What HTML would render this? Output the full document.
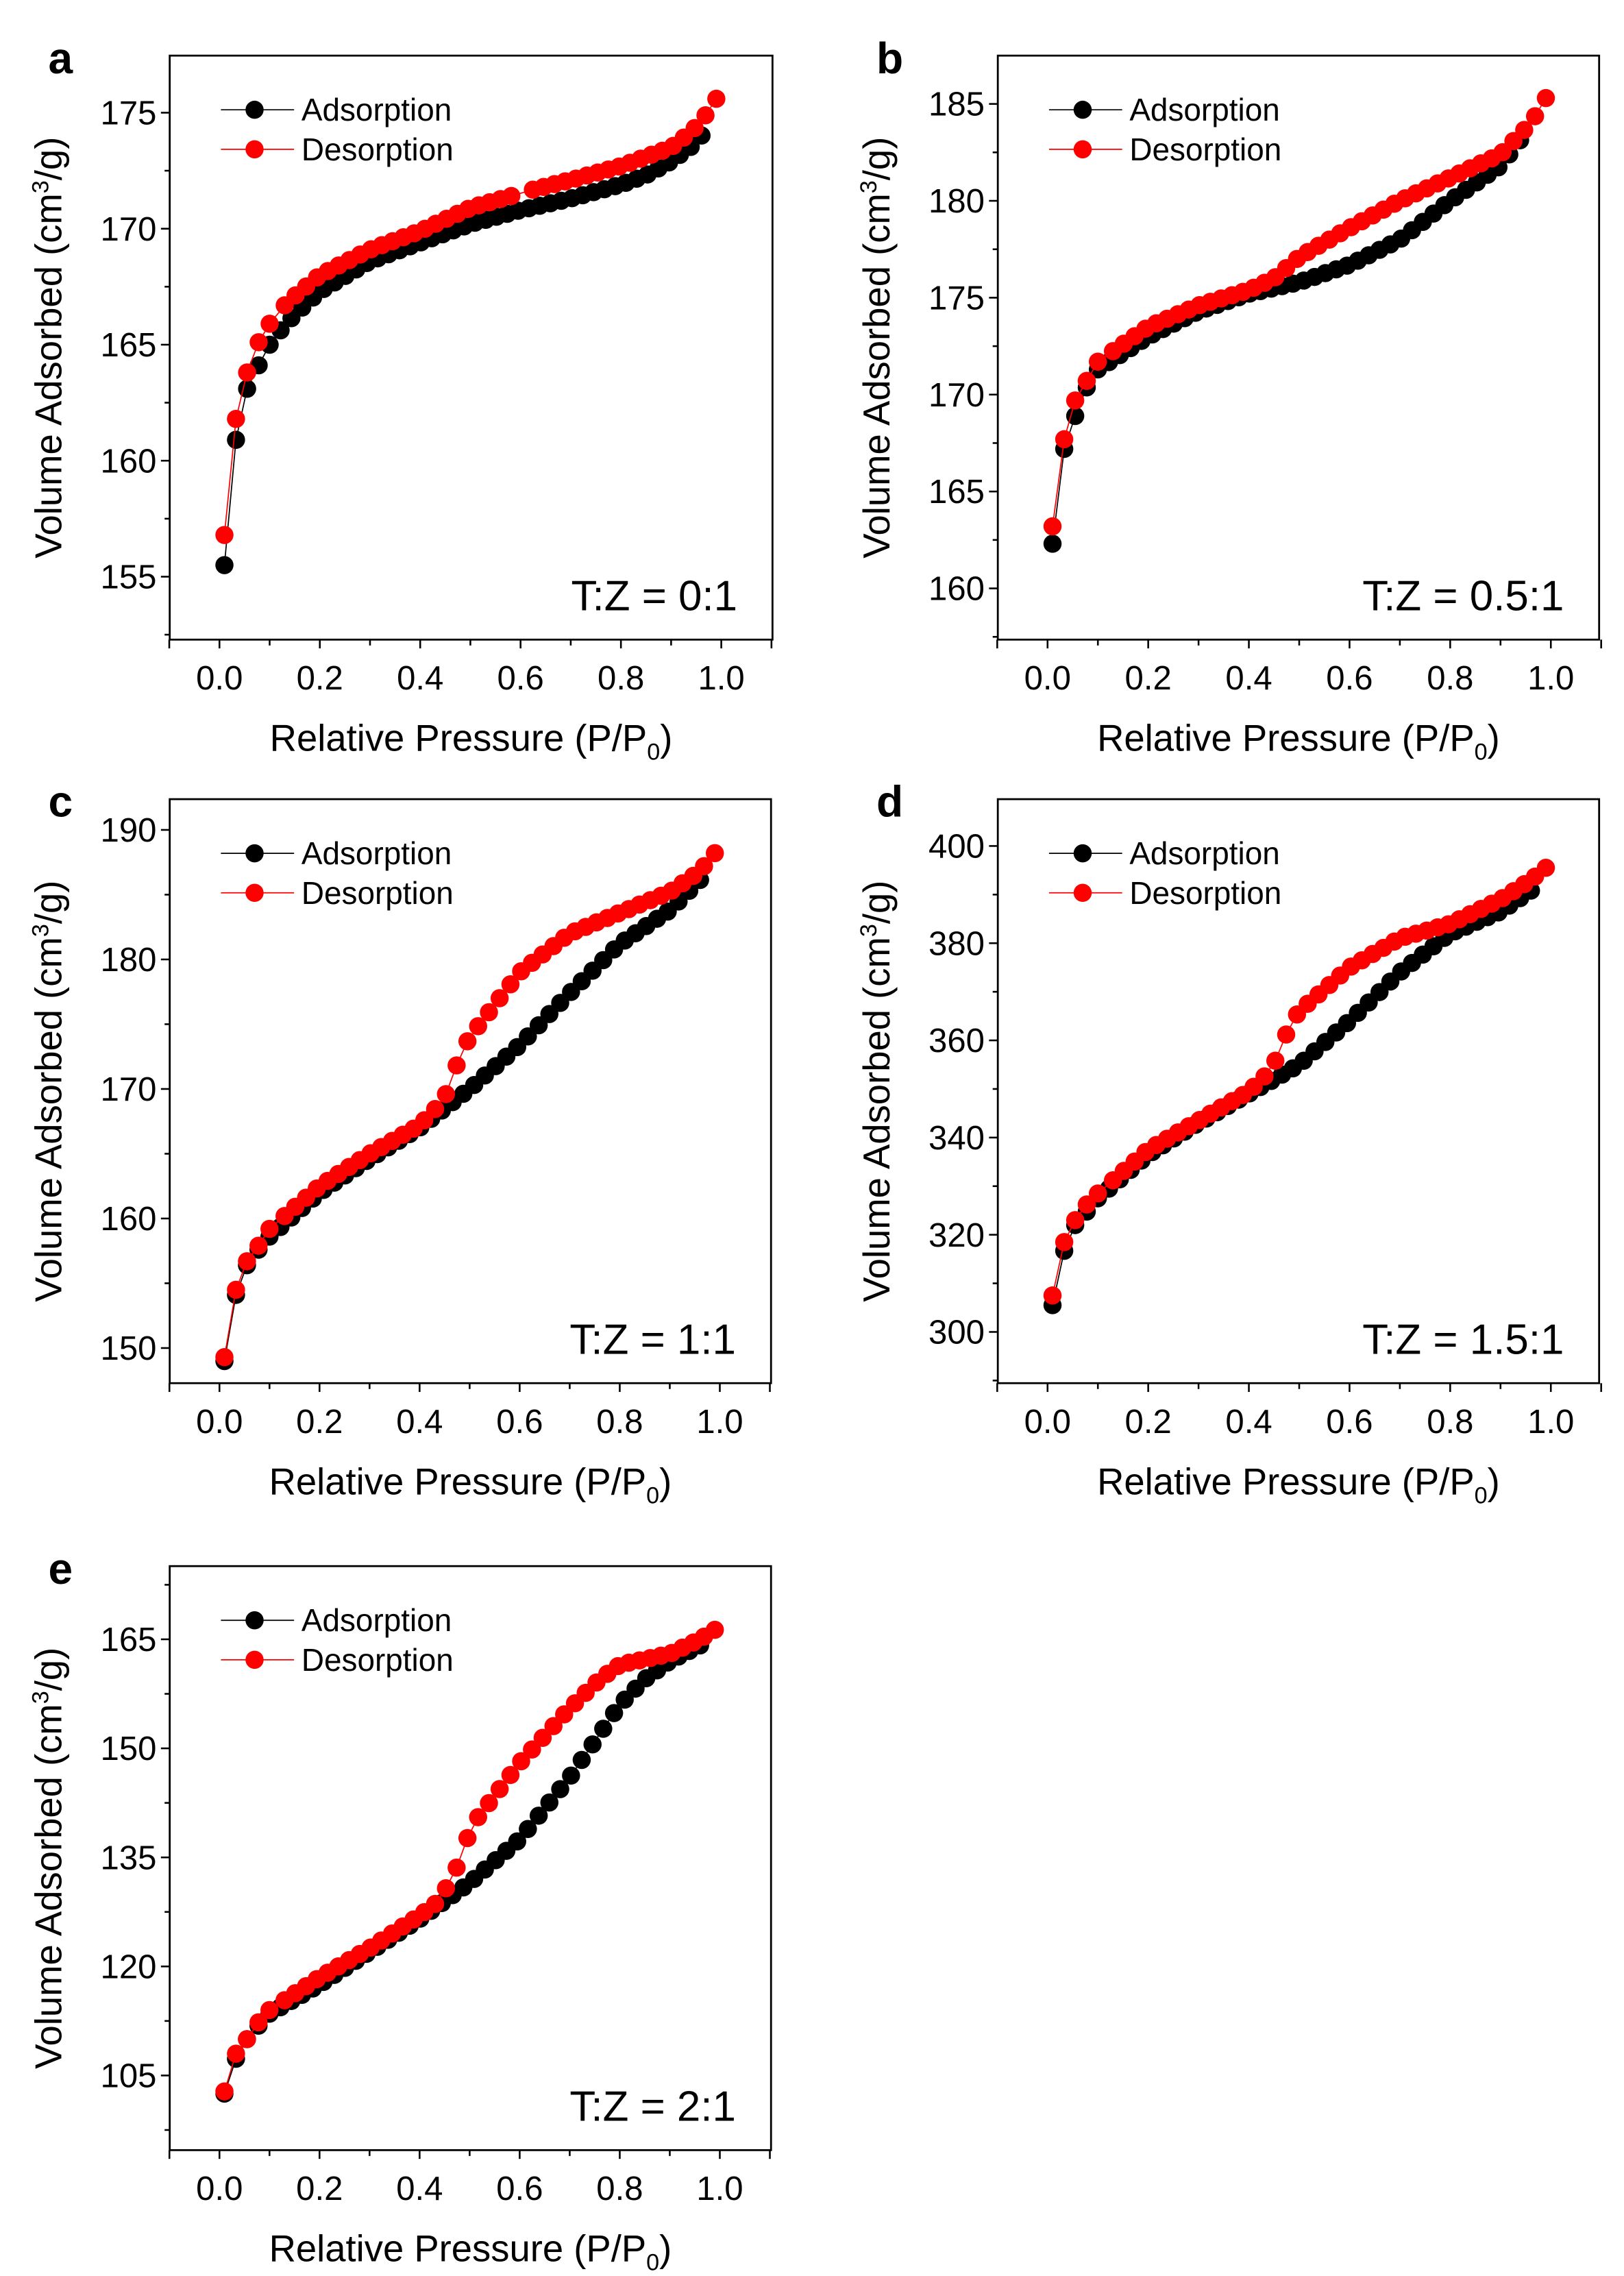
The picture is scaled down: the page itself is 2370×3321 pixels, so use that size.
<!DOCTYPE html>
<html><head><meta charset="utf-8"><style>html,body{margin:0;padding:0;background:#fff}svg{display:block}</style></head>
<body>
<svg id="s" width="2370" height="3321" viewBox="0 0 1110 1555" preserveAspectRatio="none" xmlns="http://www.w3.org/2000/svg" font-family="Liberation Sans, Arial, sans-serif"></svg>
<script>
var P=[
{L:116,R:528,T:38,B:437,x0:150,x1:493,ya:175,yap:77,yb:155,ybp:394,maj:[155,160,165,170,175],st:5,lab:"T:Z = 0:1",let:"a",
ad:[[0.01,155.5],[0.033,160.9],[0.055,163.1],[0.08,164.2],[0.1,165],[0.125,165.7],[0.15,166.3],[0.2,167.3],[0.3,168.6],[0.4,169.4],[0.5,170.2],[0.6,170.8],[0.7,171.3],[0.8,171.9],[0.85,172.3],[0.9,172.9],[0.95,173.7],[0.97,174.3]],
de:[[0.99,175.6],[0.96,174.6],[0.93,174.0],[0.9,173.5],[0.8,172.7],[0.7,172.1],[0.61,171.6],[0.58,171.4],[0.5,170.9],[0.4,169.9],[0.3,169.1],[0.2,168.0],[0.15,167.1],[0.125,166.6],[0.1,165.9],[0.075,165],[0.055,163.8],[0.033,161.8],[0.01,156.8]],gap:[0.585,0.605]},
{L:682,R:1093,T:38,B:437,x0:716,x1:1060,ya:185,yap:71,yb:160,ybp:402,maj:[160,165,170,175,180,185],st:5,lab:"T:Z = 0.5:1",let:"b",
ad:[[0.01,162.3],[0.033,167.2],[0.055,168.9],[0.08,170.5],[0.1,171.3],[0.2,173],[0.3,174.3],[0.4,175.2],[0.5,175.8],[0.6,176.7],[0.7,178],[0.8,180],[0.9,181.8],[0.95,183.5]],
de:[[0.99,185.3],[0.96,184],[0.9,182.4],[0.8,181.2],[0.7,180],[0.6,178.6],[0.5,177.1],[0.45,176],[0.4,175.4],[0.3,174.6],[0.2,173.5],[0.1,171.7],[0.08,170.8],[0.055,169.7],[0.033,167.7],[0.01,163.2]]},
{L:116,R:527,T:546,B:945,x0:150,x1:492,ya:190,yap:567,yb:150,ybp:921,maj:[150,160,170,180,190],st:10,lab:"T:Z = 1:1",let:"c",
ad:[[0.01,149],[0.033,154.1],[0.055,156.4],[0.08,157.7],[0.1,158.6],[0.2,162],[0.3,164.6],[0.4,167],[0.5,170],[0.6,173.4],[0.7,177.4],[0.8,181.2],[0.9,183.8],[0.97,186.5]],
de:[[0.99,188.2],[0.96,186.8],[0.9,185.2],[0.8,183.6],[0.7,182],[0.6,179],[0.5,174],[0.48,172.6],[0.46,170],[0.43,168.4],[0.4,167.2],[0.3,165],[0.2,162.5],[0.1,159.2],[0.08,158],[0.055,156.7],[0.033,154.5],[0.01,149.3]]},
{L:682,R:1093,T:546,B:945,x0:716,x1:1060,ya:400,yap:578,yb:300,ybp:910,maj:[300,320,340,360,380,400],st:20,lab:"T:Z = 1.5:1",let:"d",
ad:[[0.01,305.5],[0.033,316.7],[0.055,322],[0.08,325],[0.1,327.5],[0.2,336.5],[0.3,343],[0.4,349],[0.5,355],[0.6,364],[0.7,374],[0.8,382],[0.9,386.5],[0.97,391.5]],
de:[[0.99,395.5],[0.96,393],[0.9,389],[0.8,384],[0.7,381],[0.6,375],[0.5,366],[0.48,363],[0.46,357],[0.435,353],[0.4,349.5],[0.3,343.5],[0.2,337.5],[0.1,328.5],[0.08,326.5],[0.055,323],[0.033,318.5],[0.01,307.5]]},
{L:116,R:527,T:1070,B:1469,x0:150,x1:492,ya:165,yap:1120,yb:105,ybp:1418,maj:[105,120,135,150,165],st:15,lab:"T:Z = 2:1",let:"e",
ad:[[0.01,102.5],[0.033,107.3],[0.055,110],[0.08,112],[0.1,113.5],[0.2,117.5],[0.3,122],[0.4,126.5],[0.5,131.5],[0.6,137.5],[0.7,146],[0.8,156],[0.85,159.5],[0.9,162],[0.97,164.5]],
de:[[0.99,166.3],[0.96,165],[0.9,163],[0.8,161.5],[0.76,159.5],[0.7,155.5],[0.6,148],[0.5,139],[0.49,136],[0.46,131.5],[0.43,128.5],[0.4,127],[0.3,122.5],[0.2,118.5],[0.1,114],[0.08,112.5],[0.055,110],[0.033,108],[0.01,102.8]]}
];
function interp(k,x){var a=k.slice().sort(function(p,q){return p[0]-q[0]});if(x<=a[0][0])return a[0][1];for(var i=1;i<a.length;i++){if(x<=a[i][0]){var t=(x-a[i-1][0])/(a[i][0]-a[i-1][0]);return a[i-1][1]+t*(a[i][1]-a[i-1][1]);}}return a[a.length-1][1];}
var h=[];
P.forEach(function(p){
 var sx=function(v){return p.x0+v*(p.x1-p.x0)};
 var k=(p.ybp-p.yap)/(p.ya-p.yb);
 var sy=function(v){return p.ybp-(v-p.yb)*k};
 var lo=p.yb-(p.B-p.ybp)/k, hi=p.ya+(p.yap-p.T)/k;
 h.push('<rect x="'+p.L+'" y="'+p.T+'" width="'+(p.R-p.L)+'" height="'+(p.B-p.T)+'" fill="none" stroke="#000" stroke-width="1.3"/>');
 for(var v=p.yb-p.st*4;v<=hi;v+=p.st/2){if(v<lo)continue;var y=sy(v);var mj=Math.abs((v-p.yb)/p.st-Math.round((v-p.yb)/p.st))<1e-6;
  h.push('<line x1="'+(p.L-(mj?6:3.5))+'" x2="'+p.L+'" y1="'+y+'" y2="'+y+'" stroke="#000" stroke-width="1.2"/>');
  if(mj)h.push('<text x="'+(p.L-9)+'" y="'+(y+8)+'" font-size="23" text-anchor="end">'+v+'</text>');}
 for(var i=-1;i<=11;i++){var x=sx(i/10);var mj=i>=0&&i%2==0;
  h.push('<line x1="'+x+'" x2="'+x+'" y1="'+p.B+'" y2="'+(p.B+(mj||i==-1||i==11?6:4))+'" stroke="#000" stroke-width="1.2"/>');
  if(mj)h.push('<text x="'+x+'" y="'+(p.B+34)+'" font-size="23" text-anchor="middle">'+(i/10).toFixed(1)+'</text>');}
 var cx=(p.L+p.R)/2;
 h.push('<text x="'+cx+'" y="'+(p.B+76)+'" font-size="25.5" text-anchor="middle">Relative Pressure (P/P<tspan font-size="16" dy="6">0</tspan><tspan dy="-6">)</tspan></text>');
 var cy=(p.T+p.B)/2;
 h.push('<text transform="translate('+(p.L-74)+','+cy+') rotate(-90)" font-size="25.5" text-anchor="middle">Volume Adsorbed (cm<tspan font-size="16" dy="-9">3</tspan><tspan dy="9">/g)</tspan></text>');
 h.push('<text x="'+(p.L-83)+'" y="'+(p.T+12)+'" font-size="30" font-weight="bold">'+p.let+'</text>');
 h.push('<text x="'+(p.R-24)+'" y="'+(p.B-20)+'" font-size="29" text-anchor="end">'+p.lab+'</text>');
 var ax=[0.01,0.033,0.055,0.078,0.1];for(var x=0.122;x<=0.975;x+=0.0215)ax.push(x);
 var dx=[];for(var x=0.99;x>0.11;x-=0.0215){if(p.gap&&x>p.gap[0]&&x<p.gap[1])continue;dx.push(x);}dx=dx.concat([0.1,0.078,0.055,0.033,0.01]);
 [[p.ad,ax,"#000"],[p.de,dx,"#f00"]].forEach(function(s){
  var pts=s[1].filter(function(x){return x<=Math.max.apply(null,s[0].map(function(q){return q[0]}))+1e-9}).map(function(x){return [sx(x),sy(interp(s[0],x))]});
  h.push('<polyline points="'+pts.map(function(q){return q[0].toFixed(1)+','+q[1].toFixed(1)}).join(' ')+'" fill="none" stroke="'+s[2]+'" stroke-width="0.8"/>');
  pts.forEach(function(q){h.push('<circle cx="'+q[0].toFixed(1)+'" cy="'+q[1].toFixed(1)+'" r="6.2" fill="'+s[2]+'"/>')});
 });
 [["Adsorption","#000",p.T+37],["Desorption","#f00",p.T+64]].forEach(function(l){
  h.push('<line x1="'+(p.L+35)+'" x2="'+(p.L+85)+'" y1="'+l[2]+'" y2="'+l[2]+'" stroke="'+l[1]+'" stroke-width="0.8"/>');
  h.push('<circle cx="'+(p.L+58)+'" cy="'+l[2]+'" r="6.2" fill="'+l[1]+'"/>');
  h.push('<text x="'+(p.L+90)+'" y="'+(l[2]+7.5)+'" font-size="21.5">'+l[0]+'</text>');
 });
});
document.getElementById('s').innerHTML=h.join('');
</script>
</body></html>
